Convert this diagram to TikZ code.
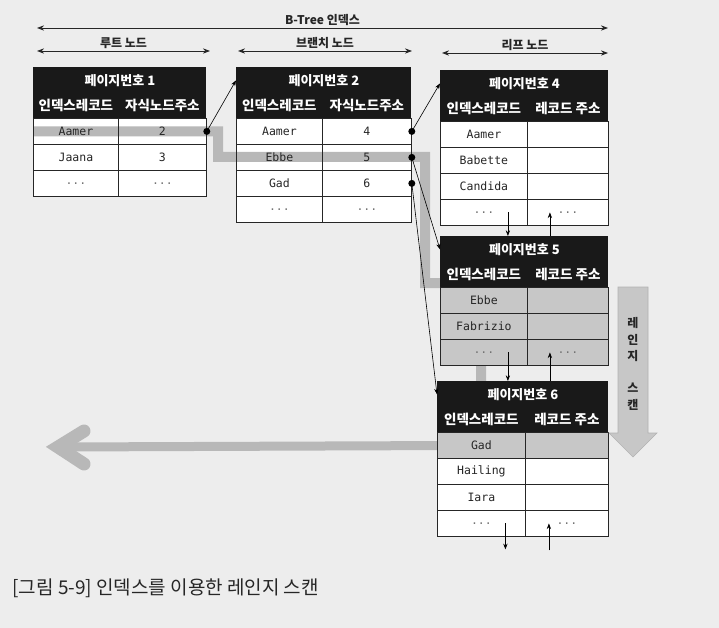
\documentclass[tikz,border=0pt]{standalone}
\usepackage{fontspec}
\setmainfont{Noto Sans CJK KR}
\newfontfamily\codefont{DejaVu Sans Mono}
\usepackage{tikz}
\usetikzlibrary{arrows.meta}
\pgfdeclarelayer{paper}
\pgfdeclarelayer{scan}
\pgfsetlayers{paper,scan,main}
\newcommand{\moredots}{\textcolor{black!55}{...}}

\begin{document}
\begin{tikzpicture}[x=1pt, y=-1pt, line width=0.8pt,
    pagehd/.style={fill=black!90, text=white, minimum width=#1, minimum height=26, inner sep=0pt, anchor=north west, font=\bfseries\fontsize{13}{14}\selectfont},
    colhd/.style={pagehd=#1, minimum height=25, font=\bfseries\fontsize{13.5}{14}\selectfont},
    cell/.style={draw=black!85, minimum width=#1, minimum height=26, inner sep=0pt, anchor=north west, text=black!85, font=\codefont\fontsize{11.5}{13}\selectfont},
    span/.style={Stealth-Stealth, line width=0.9pt, black!85},
    link/.style={-Stealth, line width=0.6pt},
    lbl/.style={font=\bfseries\fontsize{12}{14}\selectfont, anchor=south, inner sep=2pt, text=black!85},
    band/.style={line width=10pt, draw=black!28},
    scanline/.style={line width=9pt, draw=black!28}]
    \useasboundingbox (0,0) rectangle (719,628);

    % draw spans
    \coordinate (all0) at (37,28);   \coordinate (all1) at (608,28);
    \coordinate (root0) at (37,51);  \coordinate (root1) at (210,51);
    \coordinate (br0) at (238,51);   \coordinate (br1) at (412,51);
    \coordinate (leaf0) at (442,53); \coordinate (leaf1) at (608,53);
    \draw[span] (all0) -- node[lbl] (alllbl) {B-Tree 인덱스} (all1);
    \draw[span] (root0) -- node[lbl] (rootlbl) {루트 노드} (root1);
    \draw[span] (br0) -- node[lbl] (brlbl) {브랜치 노드} (br1);
    \draw[span] (leaf0) -- node[lbl] (leaflbl) {리프 노드} (leaf1);

    % draw root page
    \node[pagehd=173] (p1t) at (33,67) {페이지번호 1};
    \node[colhd=85] (p1ka) at (33,93) {인덱스레코드};
    \node[colhd=88] (p1kb) at (118,93) {자식노드주소};
    \foreach \k/\v [count=\i] in {Aamer/2, Jaana/3, \moredots/\moredots} {
        \node[cell=85] (p1a\i) at (33,92+26*\i) {\k};
        \node[cell=88] (p1b\i) at (118,92+26*\i) {\v};
    }

    % draw branch page
    \node[pagehd=175] (p2t) at (236,67) {페이지번호 2};
    \node[colhd=86] (p2ka) at (236,93) {인덱스레코드};
    \node[colhd=89] (p2kb) at (322,93) {자식노드주소};
    \foreach \k/\v [count=\i] in {Aamer/4, Ebbe/5, Gad/6, \moredots/\moredots} {
        \node[cell=86] (p2a\i) at (236,92+26*\i) {\k};
        \node[cell=89] (p2b\i) at (322,92+26*\i) {\v};
    }

    % draw leaf pages
    \node[pagehd=168] (p4t) at (440,70) {페이지번호 4};
    \node[colhd=87] (p4ka) at (440,96) {인덱스레코드};
    \node[colhd=81] (p4kb) at (527,96) {레코드 주소};
    \foreach \k/\v [count=\i] in {Aamer/{}, Babette/{}, Candida/{}, \moredots/\moredots} {
        \node[cell=87] (p4a\i) at (440,95+26*\i) {\k};
        \node[cell=81] (p4b\i) at (527,95+26*\i) {\v};
    }

    \node[pagehd=168] (p5t) at (440,236) {페이지번호 5};
    \node[colhd=87] (p5ka) at (440,262) {인덱스레코드};
    \node[colhd=81] (p5kb) at (527,262) {레코드 주소};
    \foreach \k/\v [count=\i] in {Ebbe/{}, Fabrizio/{}, \moredots/\moredots} {
        \node[cell=87, fill=black!22] (p5a\i) at (440,261+26*\i) {\k};
        \node[cell=81, fill=black!22] (p5b\i) at (527,261+26*\i) {\v};
    }

    \node[pagehd=171] (p6t) at (437,381) {페이지번호 6};
    \node[colhd=88] (p6ka) at (437,407) {인덱스레코드};
    \node[colhd=83] (p6kb) at (525,407) {레코드 주소};
    \foreach \k/\v/\tone [count=\i] in {Gad/{}/black!22, Hailing/{}/none, Iara/{}/none, \moredots/\moredots/none} {
        \node[cell=88, fill=\tone] (p6a\i) at (437,406+26*\i) {\k};
        \node[cell=83, fill=\tone] (p6b\i) at (525,406+26*\i) {\v};
    }

    % draw links between pages
    \draw[link] (p1b1.east) -- (p2t.west);
    \draw[link] (p2b1.east) -- (p4t.west);
    \draw[link] (p2b2.east) -- (p5t.west);
    \draw[link] (p2b3.east) -- (p6t.west);
    \foreach \n in {p1b1, p2b1, p2b2, p2b3}
        \fill (\n.east) circle (3.5pt);

    % draw sibling links
    \coordinate (dn4) at ([xshift=24pt]p4a4.center);
    \coordinate (up4) at ([xshift=-18pt]p4b4.center);
    \draw[link] (dn4) -- (dn4 |- p5t.north);
    \draw[link] (up4 |- p5t.north) -- (up4);
    \coordinate (dn5) at ([xshift=24pt]p5a3.center);
    \coordinate (up5) at ([xshift=-18pt]p5b3.center);
    \draw[link] (dn5) -- (dn5 |- p6t.north);
    \draw[link] (up5 |- p6t.north) -- (up5);
    \coordinate (dn6) at ([xshift=24pt]p6a4.center);
    \coordinate (up6) at ([xshift=-18pt]p6b4.center);
    \coordinate (dn6end) at ([yshift=-26pt]dn6);
    \coordinate (up6end) at ([yshift=-27pt]up6);
    \draw[link] (dn6) -- (dn6end);
    \draw[link] (up6end) -- (up6);

    % draw range scan arrow
    \filldraw[fill=black!22, draw=black!30, line width=0.6pt] (618,287) -- (648,287) -- (648,433) -- (657,433) -- (633,457) -- (609,433) -- (618,433) -- cycle;
    \node[font=\bfseries\fontsize{12}{16.3}\selectfont, align=center, text=black!85] (scanlbl) at (633,364) {레\\인\\지\\[16pt]스\\캔};

    % draw caption
    \node[anchor=west, inner sep=0pt, text=black!85, font=\fontsize{19}{22}\selectfont] (caption) at (12,588) {[그림 5-9] 인덱스를 이용한 레인지 스캔};

    % draw scan path
    \coordinate (scanend) at (62,447);
    \begin{pgfonlayer}{scan}
        \draw[band] (p1a1.west) -| (218,157) -- (425,157) |- (481,283) -- (p6a1.center);
        \draw[scanline] (p6a1.center) -- (scanend);
        \draw[draw=black!28, line width=13pt, line cap=round, line join=miter] (84,431) -- (58,447) -- (84,464);
    \end{pgfonlayer}

    % draw paper and white cells
    \begin{pgfonlayer}{paper}
        \fill[black!7] (0,0) rectangle (719,628);
        \fill[white] (p1a1.north west) rectangle (p1b3.south east);
        \fill[white] (p2a1.north west) rectangle (p2b4.south east);
        \fill[white] (p4a1.north west) rectangle (p4b4.south east);
        \fill[white] (p6a1.north west) rectangle (p6b4.south east);
    \end{pgfonlayer}
\end{tikzpicture}
\end{document}
